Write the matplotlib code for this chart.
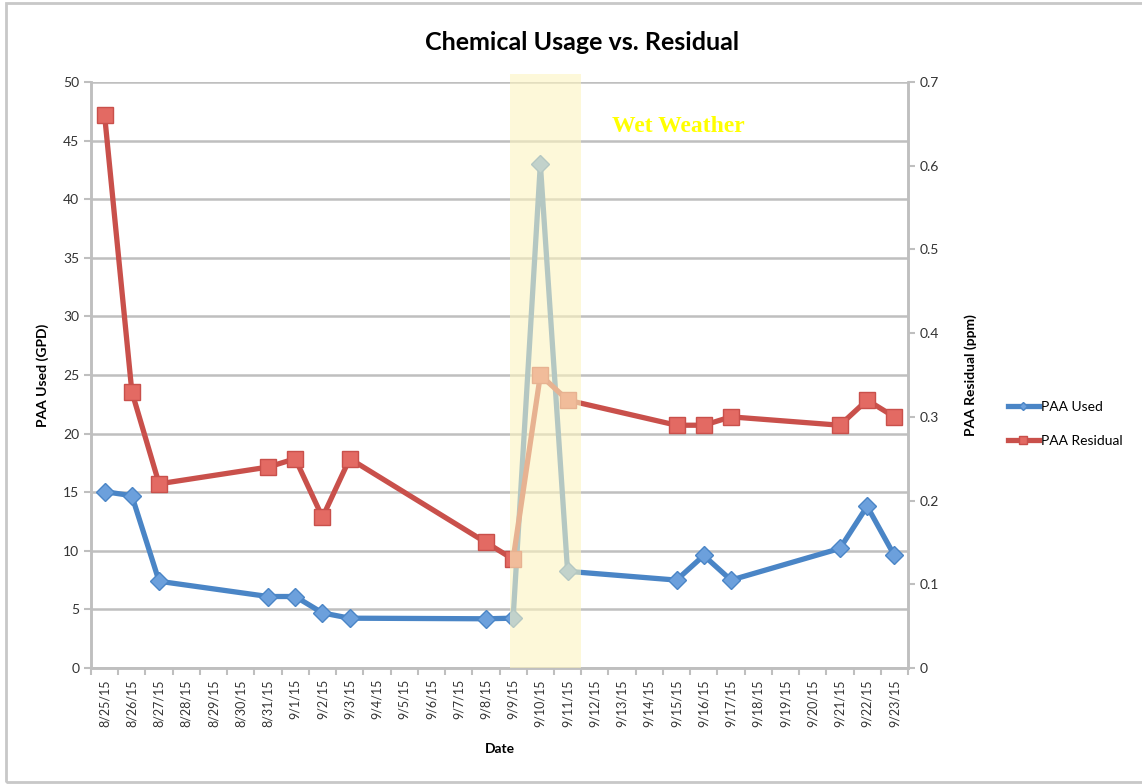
import matplotlib
matplotlib.use('Agg')
import matplotlib.pyplot as plt
from matplotlib.patches import Rectangle
import numpy as np

plt.rcParams['font.family'] = ['Lato', 'DejaVu Sans']

# category dates, one per day
dates = ['8/25/15', '8/26/15', '8/27/15', '8/28/15', '8/29/15', '8/30/15', '8/31/15',
         '9/1/15', '9/2/15', '9/3/15', '9/4/15', '9/5/15', '9/6/15', '9/7/15', '9/8/15',
         '9/9/15', '9/10/15', '9/11/15', '9/12/15', '9/13/15', '9/14/15', '9/15/15',
         '9/16/15', '9/17/15', '9/18/15', '9/19/15', '9/20/15', '9/21/15', '9/22/15', '9/23/15']

# days with readings
sample_dates = ['8/25/15', '8/26/15', '8/27/15', '8/31/15', '9/1/15', '9/2/15', '9/3/15',
                '9/8/15', '9/9/15', '9/10/15', '9/11/15', '9/15/15', '9/16/15', '9/17/15',
                '9/21/15', '9/22/15', '9/23/15']
paa_used = [15.05, 14.7, 7.4, 6.1, 6.1, 4.7, 4.25, 4.2, 4.25, 43.0, 8.25, 7.5, 9.6, 7.5,
            10.2, 13.8, 9.6]
paa_residual = [0.66, 0.33, 0.22, 0.24, 0.25, 0.18, 0.25, 0.15, 0.13, 0.35, 0.32, 0.29,
                0.29, 0.30, 0.29, 0.32, 0.30]

wet_start, wet_end = '9/9/15', '9/11/15'

x = [dates.index(d) for d in sample_dates]

fig = plt.figure(figsize=(11.42, 7.84), dpi=100)
ax = fig.add_axes([91 / 1142, 1 - 668 / 784, (908 - 91) / 1142, (668 - 82) / 784])
ax2 = ax.twinx()

grid_c = '#BFBFBF'
blue, blue_face = '#4A85C6', '#6CA0DC'
red, red_face = '#C9504B', '#E36A63'

ax.set_xlim(-0.5, len(dates) - 0.5)
ax.set_ylim(0, 50)
ax.set_yticks(np.arange(0, 51, 5))
ax2.set_ylim(0, 0.7)
ax2.set_yticks(np.arange(0, 0.71, 0.1))
ax2.set_yticklabels(['0'] + ['%.1f' % v for v in np.arange(0.1, 0.71, 0.1)])

ax.yaxis.grid(True, color=grid_c, lw=1.8)
ax.set_axisbelow(True)

l1, = ax.plot(x, paa_used, color=blue, lw=3.8, marker='D', ms=9,
              mfc=blue_face, mec=blue, mew=1, label='PAA Used', zorder=3)
l2, = ax2.plot(x, paa_residual, color=red, lw=3.8, marker='s', ms=11,
               mfc=red_face, mec=red, mew=1, label='PAA Residual', zorder=3)

# wet weather band over the lines, washes them out
i0 = dates.index(wet_start) - 0.1
i1 = dates.index(wet_end) + 0.5
ax2.axvspan(i0, i1, ymax=1.013, color='#FCF4C0', alpha=0.6, zorder=5, lw=0, clip_on=False)
ax2.text(dates.index('9/15/15') + 0.05, 0.647, 'Wet Weather', color='#FFFF00',
         fontsize=17, fontweight='bold', family='Liberation Serif', ha='center', va='center')

ax.set_xticks(range(len(dates)))
ax.set_xticklabels(dates, rotation=90, fontsize=9, color='#333333')
ax.set_xticks(np.arange(-0.5, len(dates), 1), minor=True)
ax.tick_params(axis='x', which='major', length=0, pad=8)
ax.tick_params(axis='x', which='minor', length=5, color=grid_c, width=1.5)
ax.tick_params(axis='y', length=5, color=grid_c, width=1.5, labelsize=10, labelcolor='#333333')
ax2.tick_params(axis='y', length=5, color=grid_c, width=1.5, labelsize=10, labelcolor='#333333')

for a in (ax, ax2):
    a.spines['top'].set_visible(False)
    for s in ('left', 'right', 'bottom'):
        a.spines[s].set_color(grid_c)
        a.spines[s].set_linewidth(1.8)

ax.set_ylabel('PAA Used (GPD)', fontsize=10, fontweight='bold', labelpad=10)
ax2.set_ylabel('PAA Residual (ppm)', fontsize=10, fontweight='bold', labelpad=18)
ax.set_xlabel('Date', fontsize=10, fontweight='bold', labelpad=12)
fig.text(582 / 1142, 1 - 42 / 784, 'Chemical Usage vs. Residual', fontsize=18,
         fontweight='bold', ha='center', va='center')

fig.legend(handles=[l1, l2], loc='center left', bbox_to_anchor=(995 / 1142, 1 - 424 / 784),
           frameon=False, fontsize=10, labelspacing=1.6, handlelength=2.3, handletextpad=0.1,
           markerscale=0.5)

fig.patches.append(Rectangle((6 / 1142, 2 / 784), 1.2, 1 - 5 / 784, transform=fig.transFigure,
                             fill=False, ec='#C8C8C8', lw=2))

fig.savefig('out.png', dpi=100)
